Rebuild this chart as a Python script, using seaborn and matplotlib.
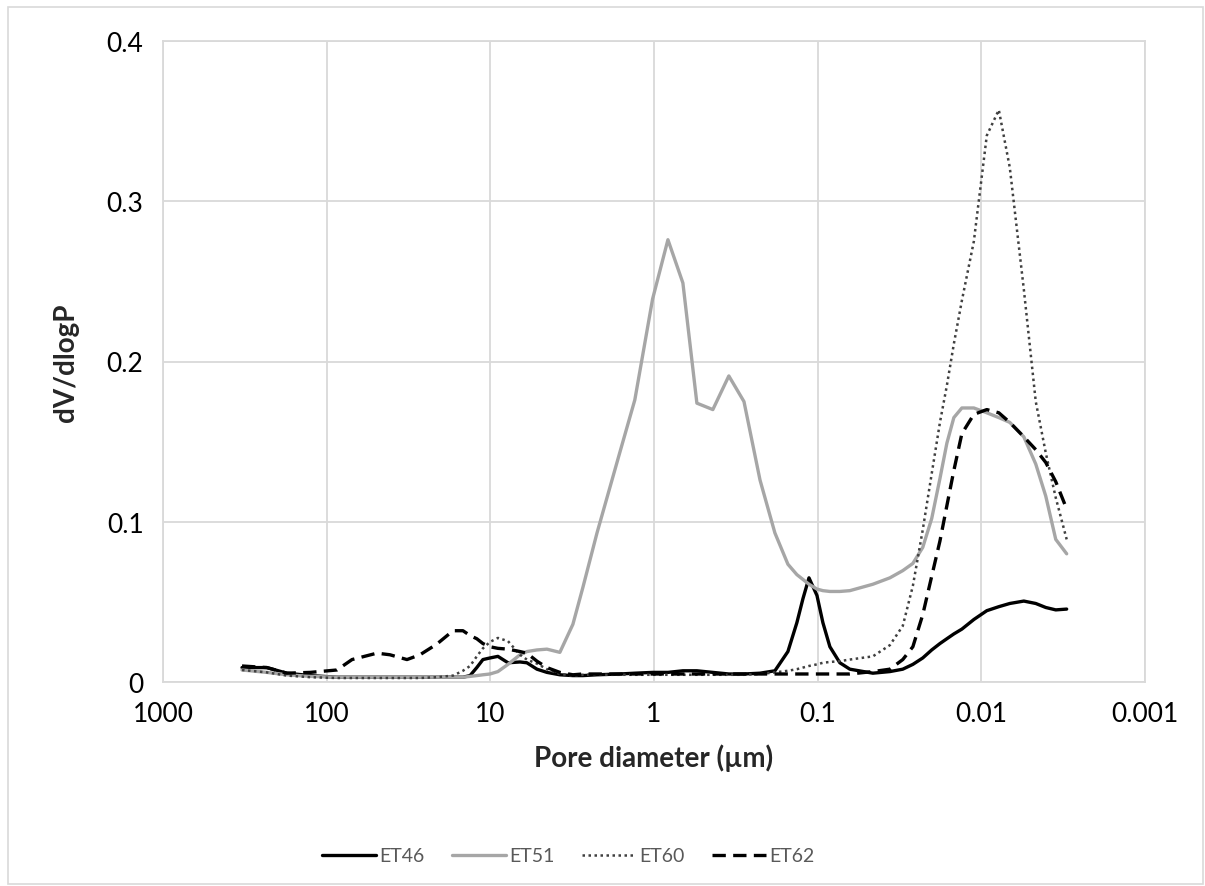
import numpy as np
import pandas as pd
import matplotlib
matplotlib.use("Agg")
import matplotlib.pyplot as plt
import seaborn as sns
from matplotlib.patches import Rectangle

# pore diameters (um), shared by all samples
diam = [329, 232, 175, 126, 86.5, 70, 49.3, 41.1, 32.3, 26.9, 21.2, 16.9, 14.7, 13.3,
        12.1, 11.1, 10.05, 8.99, 7.80, 6.59, 5.98, 5.19, 4.51, 3.76, 3.13, 2.72, 2.23,
        1.62, 1.31, 1.02, 0.822, 0.666, 0.547, 0.437, 0.349, 0.282, 0.225, 0.1825,
        0.152, 0.134, 0.123, 0.113, 0.101, 0.0929, 0.0842, 0.0732, 0.0636, 0.046,
        0.0362, 0.0302, 0.0262, 0.0228, 0.0201, 0.0179, 0.01624, 0.01472, 0.01315,
        0.01111, 0.00926, 0.00782, 0.0067, 0.0055, 0.00465, 0.00404, 0.00351, 0.00301]

et46 = [0.009, 0.009, 0.0055, 0.004, 0.003, 0.003, 0.003, 0.003, 0.003, 0.003, 0.003,
        0.003, 0.003, 0.004, 0.009, 0.014, 0.015, 0.016, 0.012, 0.0125, 0.012, 0.008,
        0.006, 0.0045, 0.004, 0.004, 0.0045, 0.005, 0.0055, 0.006, 0.006, 0.007, 0.007,
        0.006, 0.005, 0.005, 0.0055, 0.007, 0.019, 0.037, 0.052, 0.065, 0.054, 0.037,
        0.022, 0.012, 0.008, 0.0055, 0.0065, 0.008, 0.011, 0.015, 0.020, 0.024, 0.027,
        0.030, 0.033, 0.039, 0.0445, 0.047, 0.049, 0.0505, 0.049, 0.0465, 0.045, 0.0455]

et51 = [0.0075, 0.006, 0.0045, 0.0035, 0.003, 0.003, 0.003, 0.003, 0.003, 0.003, 0.003,
        0.003, 0.003, 0.0035, 0.004, 0.0045, 0.005, 0.0065, 0.011, 0.017, 0.019, 0.020,
        0.0205, 0.0185, 0.036, 0.059, 0.093, 0.143, 0.176, 0.239, 0.276, 0.249, 0.174,
        0.170, 0.191, 0.175, 0.126, 0.093, 0.0735, 0.067, 0.064, 0.061, 0.058, 0.057,
        0.0565, 0.0565, 0.057, 0.061, 0.065, 0.0695, 0.074, 0.084, 0.102, 0.127, 0.149,
        0.165, 0.171, 0.171, 0.168, 0.165, 0.162, 0.153, 0.136, 0.116, 0.089, 0.080]

et60 = [0.0075, 0.006, 0.004, 0.003, 0.0025, 0.0025, 0.0025, 0.0025, 0.0025, 0.0025,
        0.003, 0.004, 0.007, 0.010, 0.016, 0.021, 0.025, 0.0275, 0.0255, 0.017, 0.014,
        0.0115, 0.008, 0.005, 0.004, 0.0045, 0.0045, 0.0045, 0.0045, 0.0045, 0.0045,
        0.0045, 0.0045, 0.0045, 0.0045, 0.0045, 0.005, 0.006, 0.007, 0.008, 0.009,
        0.010, 0.011, 0.012, 0.0125, 0.013, 0.014, 0.016, 0.023, 0.035, 0.060, 0.095,
        0.130, 0.162, 0.185, 0.211, 0.238, 0.275, 0.341, 0.357, 0.321, 0.245, 0.175,
        0.143, 0.115, 0.089]

et62 = [0.010, 0.009, 0.0055, 0.006, 0.0075, 0.014, 0.018, 0.017, 0.014, 0.017, 0.0237,
        0.032, 0.032, 0.029, 0.027, 0.024, 0.022, 0.021, 0.0205, 0.019, 0.018, 0.013,
        0.009, 0.006, 0.0045, 0.005, 0.005, 0.005, 0.005, 0.005, 0.005, 0.005, 0.005,
        0.005, 0.005, 0.005, 0.005, 0.005, 0.005, 0.005, 0.005, 0.005, 0.005, 0.005,
        0.005, 0.005, 0.005, 0.0065, 0.008, 0.014, 0.022, 0.042, 0.066, 0.088, 0.110,
        0.132, 0.155, 0.167, 0.170, 0.168, 0.162, 0.153, 0.145, 0.137, 0.125, 0.108]

samples = ["ET46", "ET51", "ET60", "ET62"]
xticks = [1000, 100, 10, 1, 0.1, 0.01, 0.001]
xtick_labels = ["1000", "100", "10", "1", "0.1", "0.01", "0.001"]
yticks = [0, 0.1, 0.2, 0.3, 0.4]
ytick_labels = ["0", "0.1", "0.2", "0.3", "0.4"]

df = pd.DataFrame({"diam": diam * 4,
                   "val": et46 + et51 + et60 + et62,
                   "sample": [s for s in samples for _ in diam]})

sns.set_style("white")
plt.rcParams["font.family"] = ["Lato", "DejaVu Sans"]

fig = plt.figure(figsize=(12.05, 8.87), dpi=100)
ax = fig.add_axes([163 / 1205, 1 - 683 / 887, (1145 - 163) / 1205, (683 - 42) / 887])

palette = {"ET46": "#000000", "ET51": "#a6a6a6", "ET60": "#404040", "ET62": "#000000"}
widths = {"ET46": 2.4, "ET51": 2.4, "ET60": 1.8, "ET62": 2.4}

for s in samples:
    sub = df[df["sample"] == s]
    sns.lineplot(data=sub, x="diam", y="val", ax=ax, color=palette[s],
                 linewidth=widths[s], label=s, sort=False, estimator=None)
    line = ax.get_lines()[-1]
    if s == "ET62":
        line.set_dashes([4, 2.2])
    elif s == "ET60":
        line.set_dashes([1, 1.4])

ax.set_xscale("log")
ax.set_xlim(1000, 0.001)
ax.set_ylim(0, 0.4)
ax.set_xticks(xticks)
ax.set_xticklabels(xtick_labels)
ax.minorticks_off()
ax.set_yticks(yticks)
ax.set_yticklabels(ytick_labels)
ax.tick_params(axis="both", length=0, labelsize=19, colors="black", pad=14)
ax.grid(True, color="#d9d9d9", linewidth=1.3)
for sp in ax.spines.values():
    sp.set_color("#d9d9d9")
    sp.set_linewidth(1.3)

ax.set_xlabel("Pore diameter (µm)", fontsize=20, fontweight="bold", labelpad=12)
ax.set_ylabel("dV/dlogP", fontsize=20, fontweight="bold", labelpad=20)

if ax.legend_:
    ax.legend_.remove()
handles = ax.get_lines()[:4]
leg = fig.legend(handles, samples, loc="center", bbox_to_anchor=(568 / 1205, 1 - 857 / 887),
                 ncol=4, frameon=False, fontsize=14, handlelength=2.8, handletextpad=0.15,
                 columnspacing=1.4, labelcolor="#595959")

fig.patches.append(Rectangle((8 / 1205, 2 / 887), 1 - 10 / 1205, 1 - 10 / 887,
                             transform=fig.transFigure, fill=False,
                             edgecolor="#d9d9d9", linewidth=1.2))

fig.savefig("out.png", dpi=100)
